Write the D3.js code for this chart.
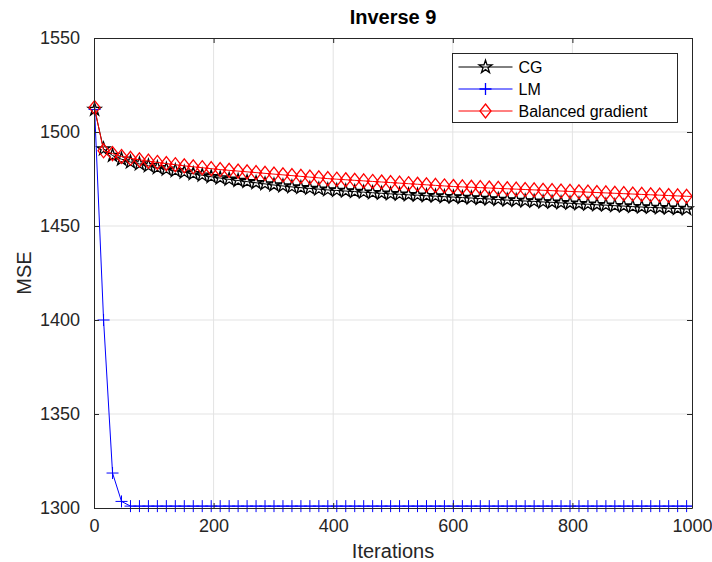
<!DOCTYPE html>
<html>
<head>
<meta charset="utf-8">
<script src="https://cdn.jsdelivr.net/npm/d3@7"></script>
<style>
  html, body { margin: 0; padding: 0; background: #fff; }
  svg { display: block; font-family: "Liberation Sans", Arial, Helvetica, sans-serif; }
</style>
</head>
<body>
<svg id="chart" width="712" height="562"></svg>
<script>
// Iteration numbers at which the training error was recorded
const iterations = [1,16,31,46,61,76,91,106,121,136,151,166,181,196,211,226,241,256,271,286,
  301,316,331,346,361,376,391,406,421,436,451,466,481,496,511,526,541,556,571,586,
  601,616,631,646,661,676,691,706,721,736,751,766,781,796,811,826,841,856,871,886,
  901,916,931,946,961,976,991,1000];

const cgMSE = [1512,1491,1487.5,1485.5,1484,1483,1482,1481,1480.2,1479.4,1478.6,1477.8,1477,1476.2,1475.5,1474.8,1474.2,1473.6,1473,1472.4,
  1471.8,1471.3,1470.8,1470.4,1470,1469.6,1469.2,1468.9,1468.6,1468.3,1468,1467.7,1467.4,1467.1,1466.9,1466.6,1466.4,1466.1,1465.9,1465.6,
  1465.4,1465.1,1464.9,1464.6,1464.4,1464.1,1463.8,1463.6,1463.3,1463.1,1462.8,1462.6,1462.3,1462.1,1461.8,1461.6,1461.3,1461.1,1460.8,1460.6,
  1460.3,1460.1,1459.9,1459.7,1459.5,1459.3,1459.1,1459];

const lmMSE = [1512,1400,1318.6,1303.5,1301,1301,1301,1301,1301,1301,1301,1301,1301,1301,1301,1301,1301,1301,1301,1301,
  1301,1301,1301,1301,1301,1301,1301,1301,1301,1301,1301,1301,1301,1301,1301,1301,1301,1301,1301,1301,
  1301,1301,1301,1301,1301,1301,1301,1301,1301,1301,1301,1301,1301,1301,1301,1301,1301,1301,1301,1301,
  1301,1301,1301,1301,1301,1301,1301,1301];

const bgMSE = [1513,1490,1488.5,1487,1486,1485.2,1484.5,1483.8,1483.2,1482.6,1482,1481.5,1481,1480.5,1480,1479.6,1479.2,1478.8,1478.4,1478,
  1477.6,1477.2,1476.8,1476.4,1476,1475.6,1475.2,1474.9,1474.6,1474.3,1474,1473.7,1473.4,1473.1,1472.8,1472.5,1472.2,1471.9,1471.6,1471.3,
  1471,1470.8,1470.6,1470.4,1470.2,1470,1469.8,1469.6,1469.4,1469.2,1469,1468.8,1468.6,1468.4,1468.2,1468,1467.8,1467.6,1467.4,1467.2,
  1467,1466.8,1466.6,1466.4,1466.2,1466,1465.8,1465.7];

const seriesNames = ["CG", "LM", "Balanced gradient"];
const xTicks = [0, 200, 400, 600, 800, 1000];
const yTicks = [1300, 1350, 1400, 1450, 1500, 1550];

const series = [
  { name: seriesNames[0], values: cgMSE, color: "#000000", marker: "star" },
  { name: seriesNames[1], values: lmMSE, color: "#0000ff", marker: "plus" },
  { name: seriesNames[2], values: bgMSE, color: "#ff0000", marker: "diamond" }
];

const svg = d3.select("#chart");
const margin = { left: 94, right: 20, top: 38, bottom: 54 };
const W = 712, H = 562;

const x = d3.scaleLinear().domain([0, 1000]).range([margin.left, W - margin.right]);
const y = d3.scaleLinear().domain([1300, 1550]).range([H - margin.bottom, margin.top]);

const axisColor = "#262626";
const x0 = x(0), x1 = x(1000), y0 = y(1300), y1 = y(1550);

// grid
const grid = svg.append("g");
grid.selectAll(".gx").data(xTicks.slice(1, -1)).join("line")
  .attr("x1", d => x(d)).attr("x2", d => x(d)).attr("y1", y1).attr("y2", y0)
  .attr("stroke", "#e3e3e3").attr("stroke-width", 1);
grid.selectAll(".gy").data(yTicks.slice(1, -1)).join("line")
  .attr("y1", d => y(d)).attr("y2", d => y(d)).attr("x1", x0).attr("x2", x1)
  .attr("stroke", "#e3e3e3").attr("stroke-width", 1);

// series lines and markers
const line = d3.line().x((d, i) => x(iterations[i])).y(d => y(d));
const star = d3.symbol().type(d3.symbolStar).size(52);
const diamondPath = "M0,-7L5.5,0L0,7L-5.5,0Z";
const plusPath = "M-6,0H6M0,-6V6";

function markerPath(kind) {
  if (kind === "star") return star();
  if (kind === "diamond") return diamondPath;
  return plusPath;
}

const plot = svg.append("g");
series.forEach(s => {
  plot.append("path").datum(s.values).attr("d", line)
    .attr("fill", "none").attr("stroke", s.color).attr("stroke-width", 1);
  const pts = s.values.map((v, i) => ({ it: iterations[i], v })).filter(p => p.it < 1000);
  plot.append("g").selectAll("path").data(pts).join("path")
    .attr("transform", p => `translate(${x(p.it)},${y(p.v)})`)
    .attr("d", markerPath(s.marker))
    .attr("fill", "none").attr("stroke", s.color)
    .attr("stroke-width", s.marker === "plus" ? 1 : 1.3);
});

// axes with inward ticks on all four sides
const fmt = d3.format("d");
const xAxisB = d3.axisBottom(x).tickValues(xTicks).tickFormat(fmt).tickSizeInner(-5).tickSizeOuter(0).tickPadding(11);
const xAxisT = d3.axisTop(x).tickValues(xTicks).tickSizeInner(-5).tickSizeOuter(0).tickFormat("");
const yAxisL = d3.axisLeft(y).tickValues(yTicks).tickFormat(fmt).tickSizeInner(-5).tickSizeOuter(0).tickPadding(14);
const yAxisR = d3.axisRight(y).tickValues(yTicks).tickSizeInner(-5).tickSizeOuter(0).tickFormat("");

function style(g) {
  g.select(".domain").attr("stroke", axisColor);
  g.selectAll(".tick line").attr("stroke", axisColor);
  g.selectAll(".tick text").attr("fill", axisColor).attr("font-size", 18)
    .attr("font-family", "Liberation Sans, Arial, sans-serif");
}
svg.append("g").attr("transform", `translate(0,${y0})`).call(xAxisB).call(style);
svg.append("g").attr("transform", `translate(0,${y1})`).call(xAxisT).call(style);
svg.append("g").attr("transform", `translate(${x0},0)`).call(yAxisL).call(style);
svg.append("g").attr("transform", `translate(${x1},0)`).call(yAxisR).call(style);

// title and axis labels
svg.append("text").attr("x", (x0 + x1) / 2).attr("y", 24).attr("text-anchor", "middle")
  .attr("font-size", 20).attr("font-weight", "bold").attr("fill", "#000").text("Inverse 9");
svg.append("text").attr("x", (x0 + x1) / 2).attr("y", 558).attr("text-anchor", "middle")
  .attr("font-size", 20).attr("fill", axisColor).text("Iterations");
svg.append("text").attr("transform", `translate(31,${(y0 + y1) / 2}) rotate(-90)`)
  .attr("text-anchor", "middle").attr("font-size", 20).attr("fill", axisColor).text("MSE");

// legend
const lg = svg.append("g").attr("transform", "translate(452.5,53.5)");
lg.append("rect").attr("width", 225).attr("height", 69)
  .attr("fill", "#fff").attr("stroke", axisColor).attr("stroke-width", 1);
series.forEach((s, i) => {
  const ly = 13.5 + i * 22;
  lg.append("line").attr("x1", 6).attr("x2", 60).attr("y1", ly).attr("y2", ly)
    .attr("stroke", s.color).attr("stroke-width", 1);
  lg.append("path").attr("transform", `translate(33,${ly})`).attr("d", markerPath(s.marker))
    .attr("fill", "none").attr("stroke", s.color).attr("stroke-width", 1.3);
  lg.append("text").attr("x", 66).attr("y", ly + 6).attr("font-size", 16)
    .attr("fill", "#000").text(s.name);
});
</script>
</body>
</html>
